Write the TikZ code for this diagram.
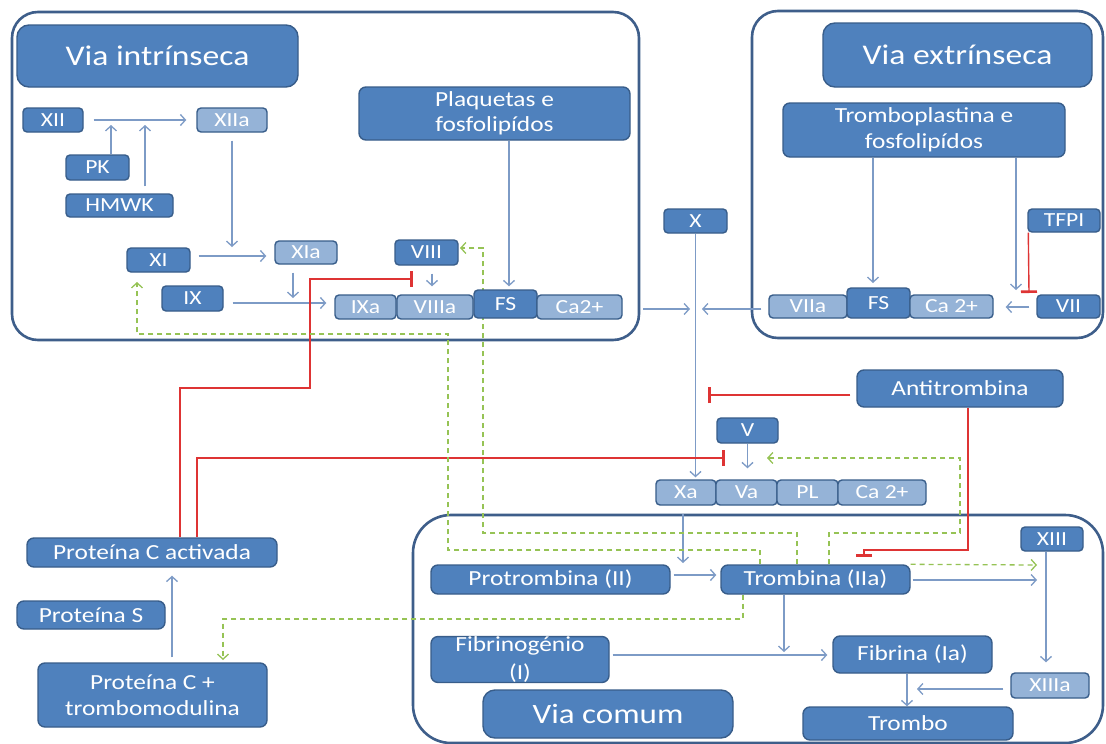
\documentclass[tikz,border=0pt]{standalone}
\usepackage{fontspec}
\setmainfont{Carlito}[FakeStretch=1.18]
\usetikzlibrary{arrows.meta,calc}

\definecolor{nodefill}{RGB}{79,129,189}
\definecolor{nodeline}{RGB}{56,93,138}
\definecolor{litefill}{RGB}{149,179,215}
\definecolor{framecol}{RGB}{62,94,138}
\definecolor{linkcol}{RGB}{125,155,198}
\definecolor{inhcol}{RGB}{222,52,52}
\definecolor{actcol}{RGB}{150,195,85}

\pgfdeclarelayer{background}
\pgfdeclarelayer{links}
\pgfsetlayers{background,links,main}

\tikzset{
  factor/.style={draw=nodeline, fill=nodefill, text=white, line width=1.4pt,
    rounded corners=4pt, inner sep=0pt, font=\fontsize{20}{24}\selectfont},
  active/.style={factor, fill=litefill},
  textbox/.style={factor, rounded corners=7pt, align=center,
    font=\fontsize{21.5}{25.5}\selectfont},
  heading/.style={factor, rounded corners=12pt, font=\fontsize{28.5}{32}\selectfont},
  panel/.style={draw=framecol, line width=2.6pt, rounded corners=26pt, inner sep=0pt},
  sz/.style 2 args={minimum width=#1pt, minimum height=#2pt},
  arr/.style={draw=linkcol, line width=1.3pt, -{Straight Barb[length=5pt,width=11pt]}},
  inh/.style={draw=inhcol, line width=1.4pt, -{Bar[width=16pt,line width=2.6pt]}},
  act/.style={draw=actcol, line width=1.3pt, dash pattern=on 5pt off 4pt,
    -{Straight Barb[length=5pt,width=11pt]}},
}

\begin{document}
\begin{tikzpicture}[x=1pt,y=-1pt]
\useasboundingbox (0,0) rectangle (1106,744);

% panels of the three pathways
\begin{pgfonlayer}{background}
  \fill[white] (0,0) rectangle (1106,744);
  \node[panel, sz={627}{328}] (fIntr) at (325.5,176) {};
  \node[panel, sz={351}{327}] (fExtr) at (927.5,174.5) {};
  \node[panel, rounded corners=38pt, sz={690}{228}] (fComum) at (758,629) {};
\end{pgfonlayer}

% intrinsic pathway
\node[heading, sz={281}{62}] (tIntr) at (157.5,56) {Via intrínseca};
\node[factor, sz={60}{24}] (XII) at (53,120) {XII};
\node[active, sz={70}{24}] (XIIa) at (232,120) {XIIa};
\node[factor, sz={63}{25}] (PK) at (97.5,167.5) {PK};
\node[factor, sz={107}{23}] (HMWK) at (119.5,205.5) {HMWK};
\node[factor, sz={63}{24}] (XI) at (158.5,260) {XI};
\node[active, sz={62}{23}] (XIa) at (306,252.5) {XIa};
\node[factor, sz={61}{25}] (IX) at (192.5,298.5) {IX};
\node[factor, sz={63}{25}] (VIII) at (426.5,252.5) {VIII};
\node[active, sz={61}{24}] (IXa) at (365.5,307) {IXa};
\node[active, sz={76}{24}] (VIIIa) at (435,307) {VIIIa};
\node[factor, sz={63}{28}] (FS) at (505.5,304) {FS};
\node[active, sz={85}{24}] (CaI) at (579.5,307) {Ca2+};
\node[textbox, sz={271}{53}] (Plaq) at (494.5,113.5) {Plaquetas e\\fosfolipídos};

% extrinsic pathway
\node[heading, sz={269}{64}] (tExtr) at (957.5,55) {Via extrínseca};
\node[textbox, sz={282}{54}] (Tpl) at (924,130) {Tromboplastina e\\fosfolipídos};
\node[factor, sz={72}{23}] (TFPI) at (1064,220.5) {TFPI};
\node[factor, sz={63}{23}] (VII) at (1068.5,306.5) {VII};
\node[active, sz={78}{23}] (VIIa) at (808,306.5) {VIIa};
\node[factor, sz={63}{30}] (FSe) at (878.5,303) {FS};
\node[active, sz={83}{23}] (CaE) at (951.5,306.5) {Ca 2+};

% factor X and prothrombinase
\node[factor, sz={63}{24}] (X) at (695.5,221) {X};
\node[textbox, sz={206}{37}] (Anti) at (960,388.5) {Antitrombina};
\node[factor, sz={61}{25}] (V) at (747.5,430.5) {V};
\node[active, sz={60}{25}] (Xa) at (686,492.5) {Xa};
\node[active, sz={61}{25}] (Va) at (746.5,492.5) {Va};
\node[active, sz={61}{25}] (PL) at (807.5,492.5) {PL};
\node[active, sz={88}{25}] (CaC) at (882,492.5) {Ca 2+};

% common pathway
\node[textbox, sz={239}{29}] (Prot) at (550.5,579.5) {Protrombina (II)};
\node[textbox, sz={189}{29}] (Trom) at (815.5,579.5) {Trombina (IIa)};
\node[factor, sz={62}{24}] (XIII) at (1052,539) {XIII};
\node[textbox, sz={178}{45}, font=\fontsize{21.5}{28}\selectfont] (Fibg) at (520,659.5) {Fibrinogénio\\(I)};
\node[textbox, sz={159}{37}] (Fibr) at (912.5,654.5) {Fibrina (Ia)};
\node[active, sz={78}{25}] (XIIIa) at (1050,685.5) {XIIIa};
\node[textbox, sz={210}{33}] (Trombo) at (908,723.5) {Trombo};
\node[heading, sz={250}{48}, font=\fontsize{28}{32}\selectfont] (tComum) at (608,714) {Via comum};

% protein C system
\node[textbox, sz={250}{29}] (PCa) at (152,552.5) {Proteína C activada};
\node[textbox, sz={148}{28}] (PS) at (91,615) {Proteína S};
\node[textbox, sz={229}{64}] (PCT) at (152.5,695) {Proteína C +\\trombomodulina};

% junction points of the connectors
\coordinate (pkIn) at (111,125);
\coordinate (hmIn) at (145,125);
\coordinate (xiiaDn) at (232,247);
\coordinate (xiaDn) at (293,298);
\coordinate (xMeetL) at (690,309);
\coordinate (xMeetR) at (702,309);
\coordinate (tplFS) at (873,283);
\coordinate (tplVII) at (1016,290);
\coordinate (tfpiT) at (1029,293);
\coordinate (antiT) at (708,395);
\coordinate (tromT) at (864,557);
\coordinate (pcaT1) at (413,279);
\coordinate (pcaT2) at (725,458);
\coordinate (xaIn) at (683,563);
\coordinate (tromR) at (1037,580);
\coordinate (tromDn) at (784,652);
\coordinate (xiiiaL) at (917,689);
\coordinate (gXI) at (137,282);
\coordinate (gVIII) at (460,248);
\coordinate (gV) at (767,458);
\coordinate (gXIII) at (1037,565);
\coordinate (gPCT) at (223,660);

\begin{pgfonlayer}{links}
  % intrinsic cascade
  \draw[arr, shorten <=10pt, shorten >=10pt] (XII) -- (XIIa);
  \draw[arr] (PK.north -| pkIn) -- (pkIn);
  \draw[arr] ($(HMWK.north -| hmIn)+(0,-7)$) -- (hmIn);
  \draw[arr] ($(XIIa.south)+(0,8)$) -- (xiiaDn);
  \draw[arr] ($(XI.east)+(8,-4)$) -- ($(XIa.west)+(-8,3.5)$);
  \draw[arr] ($(XIa.south -| xiaDn)+(0,8)$) -- (xiaDn);
  \draw[arr] ($(IX.east)+(9,4.5)$) -- ($(IXa.west)+(-8,-4)$);
  \draw[arr] ($(VIII.south)+(5.5,8)$) -- ($(VIIIa.north)+(-3,-8)$);
  \draw[arr] ($(Plaq.south)+(14.5,0)$) -- ($(FS.north)+(3.5,-3)$);

  % both pathways meet at X
  \draw[arr] ($(fIntr.east |- xMeetL)+(3,0)$) -- (xMeetL);
  \draw[arr] ($(VIIa.west)+(-7,2.5)$) -- (xMeetR);
  \draw[arr] (X.south) -- ($(X.south |- Xa.north)+(0,-2)$);

  % extrinsic cascade
  \draw[arr] ($(Tpl.south)+(-51,0)$) -- (tplFS);
  \draw[arr] ($(Tpl.south)+(92,0)$) -- (tplVII);
  \draw[inh] ($(TFPI.south west)+(1,0)$) -- (tfpiT);
  \draw[arr] ($(VII.west)+(-7,0.5)$) -- ($(CaE.east)+(12,0.5)$);

  % antithrombin
  \draw[inh] ($(Anti.west)+(-6,6.5)$) -- (antiT);
  \draw[inh] ($(Anti.south)+(8,0)$) |- (864,550) -- (tromT);

  % activated protein C
  \draw[inh] ($(PCa.north)+(28,0)$) |- (310,388) |- (pcaT1);
  \draw[inh] ($(PCa.north)+(45,0)$) |- (pcaT2);
  \draw[arr] ($(PCT.north)+(19.5,-5)$) -- ($(PCa.south)+(20,8)$);

  % common pathway
  \draw[arr] (V.south) -- ($(V.south |- Va.north)+(0,-11)$);
  \draw[arr] ($(Xa.south)+(-3,8)$) -- (xaIn);
  \draw[arr] ($(Prot.east)+(3,-4.5)$) -- ($(Trom.west)+(-4,-4.5)$);
  \draw[arr] ($(Trom.east)+(2,0.5)$) -- (tromR);
  \draw[arr] ($(Trom.south)+(-31.5,0)$) -- (tromDn);
  \draw[arr] ($(Fibg.east)+(3,-4.5)$) -- ($(Fibr.west)+(-5,0.5)$);
  \draw[arr] ($(Fibr.south)+(-5.5,0)$) -- ($(Trombo.north)+(-1,0)$);
  \draw[arr] ($(XIII.south)+(-6,0)$) -- ($(XIIIa.north)+(-4,-10)$);
  \draw[arr] ($(XIIIa.west)+(-7,3.5)$) -- (xiiiaL);

  % thrombin feedback activation
  \draw[act] ($(Trom.north)+(-55.5,0)$) |- (448,550) |- (137,334) -- (gXI);
  \draw[act] ($(Trom.north)+(-18.5,0)$) |- (483,533) |- (gVIII);
  \draw[act] ($(Trom.north)+(13.5,0)$) |- (960,533) |- (gV);
  \draw[act] (Trom.north east) -- (gXIII);
  \draw[act] ($(Trom.south)+(-72.5,0)$) |- (223,619) -- (gPCT);
\end{pgfonlayer}
\end{tikzpicture}
\end{document}
